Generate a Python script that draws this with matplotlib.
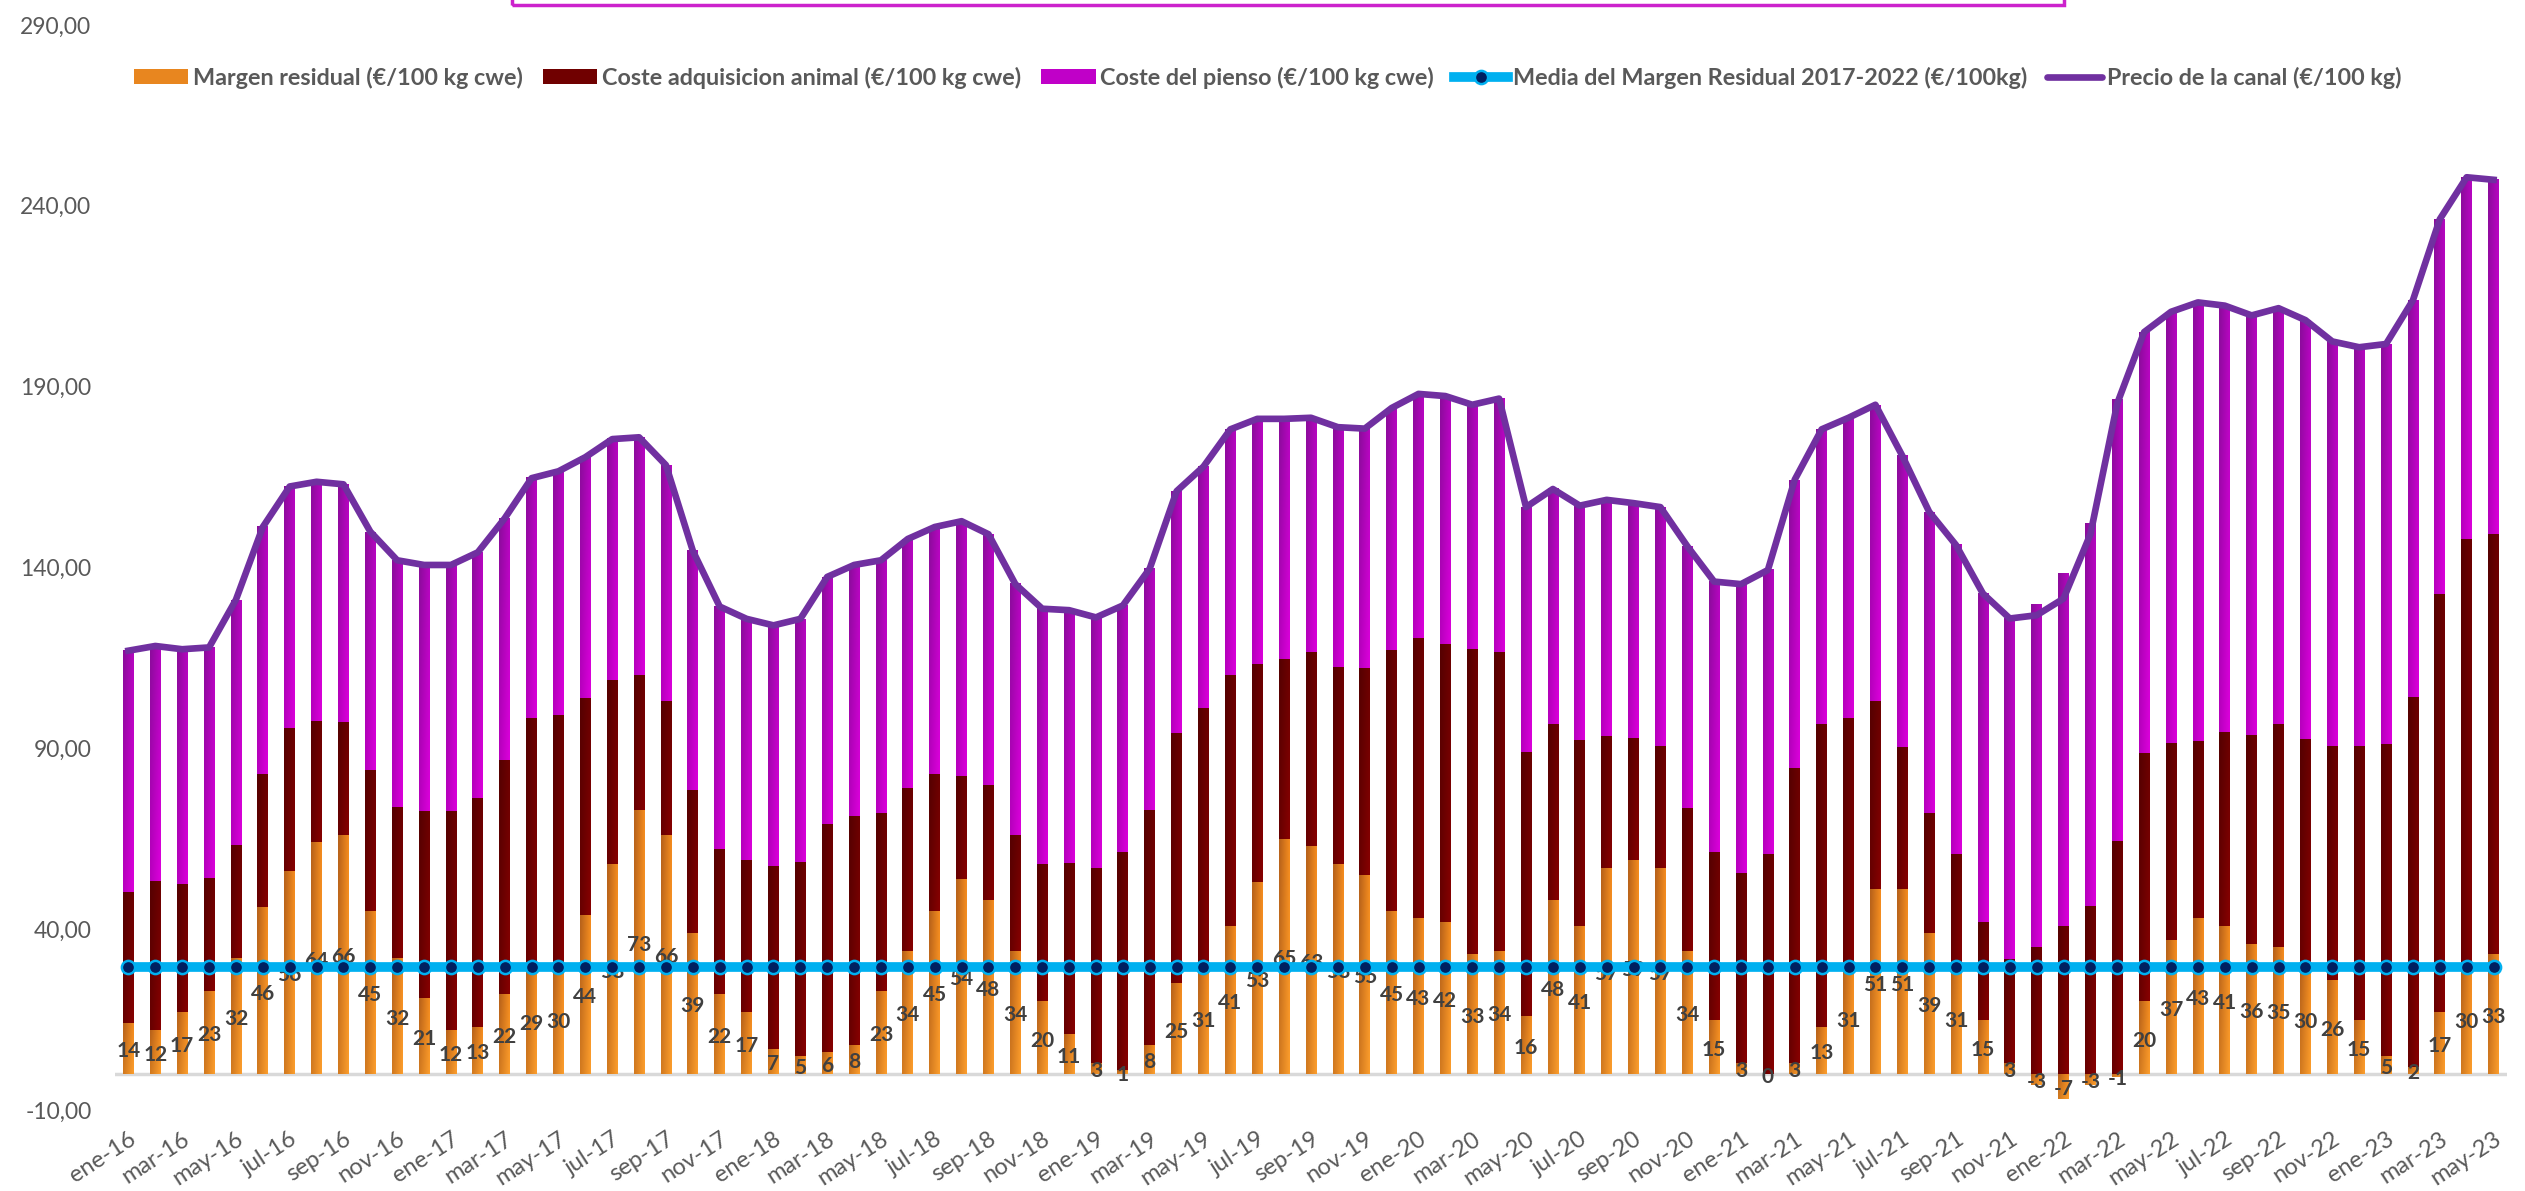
import numpy as np
import matplotlib.pyplot as plt
from matplotlib.patches import Patch, Rectangle
from matplotlib.lines import Line2D
from matplotlib.ticker import FuncFormatter

plt.rcParams['font.family'] = ['Lato', 'DejaVu Sans']

# months ene-16 .. may-23
meses = ['ene', 'feb', 'mar', 'abr', 'may', 'jun', 'jul', 'ago', 'sep', 'oct', 'nov', 'dic']
anios = ['16', '17', '18', '19', '20', '21', '22', '23']
periodos = [m + '-' + a for a in anios for m in meses][:89]

# Margen residual (€/100 kg cwe)
margen = [14, 12, 17, 23, 32, 46, 56, 64, 66, 45, 32, 21,
          12, 13, 22, 29, 30, 44, 58, 73, 66, 39, 22, 17,
          7, 5, 6, 8, 23, 34, 45, 54, 48, 34, 20, 11,
          3, 1, 8, 25, 31, 41, 53, 65, 63, 58, 55, 45,
          43, 42, 33, 34, 16, 48, 41, 57, 59, 57, 34, 15,
          3, 0, 3, 13, 31, 51, 51, 39, 31, 15, 3, -3,
          -7, -3, -1, 20, 37, 43, 41, 36, 35, 30, 26, 15,
          5, 2, 17, 30, 33]

# Coste adquisicion animal (€/100 kg cwe)
animal = [36.3, 41.2, 35.5, 31.1, 31.4, 36.8, 39.7, 33.6, 31.2, 39.1, 41.8, 51.8,
          60.8, 63.4, 64.8, 69.3, 69.3, 59.8, 50.8, 37.4, 37.2, 39.4, 40.1, 42.1,
          50.4, 53.7, 63.2, 63.2, 49.2, 45.1, 37.8, 28.4, 31.9, 31.9, 38.0, 47.4,
          54.0, 60.3, 64.9, 69.3, 70.2, 69.4, 60.4, 49.6, 53.6, 54.4, 57.1, 72.2,
          77.5, 76.9, 84.6, 82.6, 73.0, 48.6, 51.4, 36.3, 33.9, 33.7, 39.6, 46.3,
          52.4, 60.7, 81.7, 83.8, 67.3, 52.2, 39.3, 33.2, 29.7, 27.1, 28.8, 35.0,
          41.0, 46.5, 64.3, 68.7, 54.6, 49.0, 53.6, 57.6, 61.8, 62.6, 64.7, 75.7,
          86.3, 102.2, 115.8, 117.9, 116.2]

# Coste del pienso (€/100 kg cwe)
pienso = [66.7, 65.1, 64.9, 63.8, 67.7, 68.4, 66.7, 66.1, 65.8, 65.8, 68.2, 67.9,
          67.9, 67.8, 66.8, 66.4, 67.3, 66.7, 66.7, 65.6, 65.1, 66.2, 67.1, 66.7,
          66.6, 67.1, 68.2, 69.5, 69.8, 68.8, 68.4, 70.4, 69.3, 69.5, 70.6, 69.8,
          69.2, 68.2, 66.8, 66.8, 66.7, 67.8, 67.7, 66.5, 64.8, 66.4, 66.3, 66.9,
          67.5, 68.5, 67.4, 70.1, 67.7, 65.1, 64.7, 65.4, 64.9, 66.0, 72.3, 74.8,
          80.0, 78.6, 79.6, 81.4, 83.1, 81.8, 80.6, 83.2, 85.5, 90.7, 94.1, 94.8,
          97.4, 105.7, 122.1, 116.4, 119.1, 121.3, 117.8, 116.1, 114.9, 115.8, 111.8, 110.2,
          110.5, 109.7, 103.5, 100.0, 98.0]

# Precio de la canal (€/100 kg)
precio = [117.0, 118.3, 117.4, 117.9, 131.1, 151.2, 162.4, 163.7, 163.0, 149.9, 142.0, 140.7,
          140.7, 144.2, 153.6, 164.7, 166.6, 170.5, 175.5, 176.0, 168.3, 144.6, 129.2, 125.8,
          124.0, 125.8, 137.4, 140.7, 142.0, 147.9, 151.2, 152.8, 149.2, 135.4, 128.6, 128.2,
          126.2, 129.5, 139.7, 161.1, 167.9, 178.2, 181.1, 181.1, 181.4, 178.8, 178.4, 184.1,
          188.0, 187.4, 185.0, 186.7, 156.7, 161.7, 157.1, 158.7, 157.8, 156.7, 145.9, 136.1,
          135.4, 139.3, 164.3, 178.2, 181.4, 185.0, 170.9, 155.4, 146.2, 132.8, 125.9, 126.8,
          131.4, 149.2, 185.4, 205.1, 210.7, 213.3, 212.4, 209.7, 211.7, 208.4, 202.5, 200.9,
          201.8, 213.9, 236.3, 247.9, 247.2]

# Media del Margen Residual 2017-2022 (€/100kg)
media_margen = 29.5

n = len(periodos)
x = np.arange(n)
W = 0.4


def grad(tl, tr, bl, br, ny=24, nx=8):
    c = [np.array(plt.matplotlib.colors.to_rgb(k)) for k in (tl, tr, bl, br)]
    u = np.linspace(0, 1, nx)[None, :, None]
    v = np.linspace(0, 1, ny)[:, None, None]
    top = c[0] * (1 - u) + c[1] * u
    bot = c[2] * (1 - u) + c[3] * u
    return top * (1 - v) + bot * v


g_orange = grad('#B8621A', '#F28A1E', '#D27A20', '#FA9C2C')
g_red = grad('#560000', '#6C0000', '#680000', '#860000')
g_mag = grad('#8C0C9C', '#B406BE', '#B800BE', '#DA00DA')


def gbar(xi, b, t, img):
    ax.imshow(img, extent=(xi - W / 2, xi + W / 2, b, t), origin='upper',
              aspect='auto', interpolation='bilinear', zorder=2)


fig = plt.figure(figsize=(25.25, 11.91), dpi=100)
ax = fig.add_axes([115 / 2525, 1 - 1110 / 1191, (2507 - 115) / 2525, (1110 - 25) / 1191])

for i in range(n):
    m = margen[i]
    if m >= 0:
        gbar(x[i], 0, m, g_orange)
        base = m
    else:
        gbar(x[i], m, 0, g_orange)
        base = 0
    gbar(x[i], base, base + animal[i], g_red)
    gbar(x[i], base + animal[i], base + animal[i] + pienso[i], g_mag)

ax.axhline(0, color='#D9D9D9', lw=2.5, zorder=1.5)

for i in range(n):
    ax.text(x[i], margen[i] / 2 - 0.8, str(margen[i]), ha='center', va='center',
            fontsize=15, fontweight='bold', color='#404040', zorder=3)

ax.plot(x, [media_margen] * n, color='#00B0F0', lw=7, marker='o', ms=9.5,
        mfc='#002060', mec='#00B0F0', mew=1.8, zorder=4)
ax.plot(x, precio, color='#7030A0', lw=4.8, solid_joinstyle='round', zorder=5)

ax.set_xlim(-0.5, n - 0.5)
ax.set_ylim(-10, 290)
ax.set_yticks(np.arange(-10, 291, 50))
ax.yaxis.set_major_formatter(FuncFormatter(lambda v, p: f'{v:.2f}'.replace('.', ',')))
ax.set_xticks(x[::2])
ax.set_xticklabels(periodos[::2], rotation=33, ha='right', va='top',
                   rotation_mode='anchor')
ax.tick_params(axis='both', length=0, labelcolor='#595959')
ax.tick_params(axis='y', labelsize=16.5, pad=17)
ax.tick_params(axis='x', labelsize=17, pad=13)
for s in ax.spines.values():
    s.set_visible(False)

handles = [
    Patch(facecolor='#E8861F', label='Margen residual (€/100 kg cwe)'),
    Patch(facecolor='#700000', label='Coste adquisicion animal (€/100 kg cwe)'),
    Patch(facecolor='#C000C8', label='Coste del pienso (€/100 kg cwe)'),
    Line2D([], [], color='#00B0F0', lw=7, marker='o', ms=9.5, mfc='#002060',
           mec='#00B0F0', mew=1.8, label='Media del Margen Residual 2017-2022 (€/100kg)'),
    Line2D([], [], color='#7030A0', lw=4.8, solid_capstyle='round',
           label='Precio de la canal (€/100 kg)'),
]
leg = fig.legend(handles=handles, loc='center', bbox_to_anchor=(0.502, 1 - 78 / 1191),
                 ncol=5, frameon=False, handlelength=2.33, handleheight=0.6,
                 columnspacing=0.85, handletextpad=0.21,
                 prop={'size': 16.8, 'weight': 'bold'})
for t in leg.get_texts():
    t.set_color('#595959')

# magenta title frame, cut off at the top edge
fig.add_artist(Rectangle((512 / 2525, 1 - 5 / 1191), (2064 - 512) / 2525, 0.05,
                         transform=fig.transFigure, fill=False,
                         edgecolor='#CC22CC', lw=2.5, clip_on=False))

fig.savefig('out.png', dpi=100)
